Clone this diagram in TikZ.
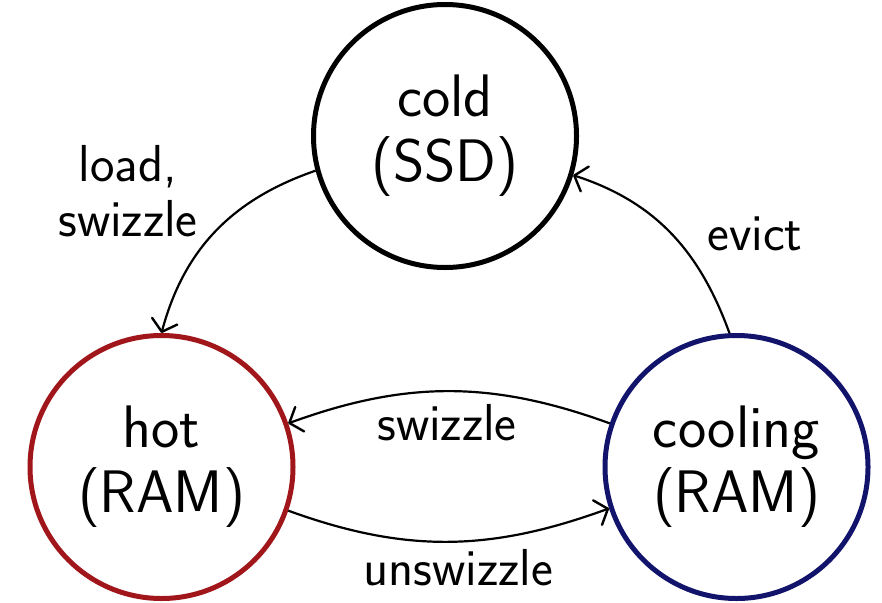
\documentclass[tikz,border=0pt]{standalone}
\usepackage{fontspec}
\usetikzlibrary{arrows.meta}
\definecolor{hotred}{RGB}{160,22,26}
\definecolor{coolblue}{RGB}{18,20,108}
\begin{document}
\begin{tikzpicture}[x=1pt,y=-1pt,
  state/.style={circle,draw,line width=5pt,minimum size=263pt,inner sep=0pt,
    align=center,font=\sffamily\fontsize{60}{65}\selectfont},
  lbl/.style={inner sep=0pt,align=center,font=\sffamily\fontsize{52}{55}\selectfont},
  conn/.style={line width=2.2pt,-{Straight Barb[length=11pt,width=26pt,line width=2.4pt,round]}}]
\useasboundingbox (0,0) rectangle (882,602);
\node[state,draw=black] (cold) at (445,136) {cold\\(SSD)};
\node[state,draw=hotred] (hot) at (161.5,467) {hot\\(RAM)};
\node[state,draw=coolblue] (cool) at (736.5,467) {cooling\\(RAM)};
\node[lbl] (l1) at (128,191) {load,\\swizzle};
\node[lbl,anchor=base] (l2) at (755,250) {evict};
\node[lbl,anchor=base] (l3) at (447,440) {swizzle};
\node[lbl,anchor=base] (l4) at (458,585) {unswizzle};
\draw[conn] (cold.195) to[out=199,in=75] (hot.north);
\draw[conn] (cool.93) to[out=110,in=-18] (cold.-17);
\draw[conn] (cool.161) to[out=160,in=20] (hot.19);
\draw[conn] (hot.-19) to[out=-20,in=200] (cool.198);
\end{tikzpicture}
\end{document}
